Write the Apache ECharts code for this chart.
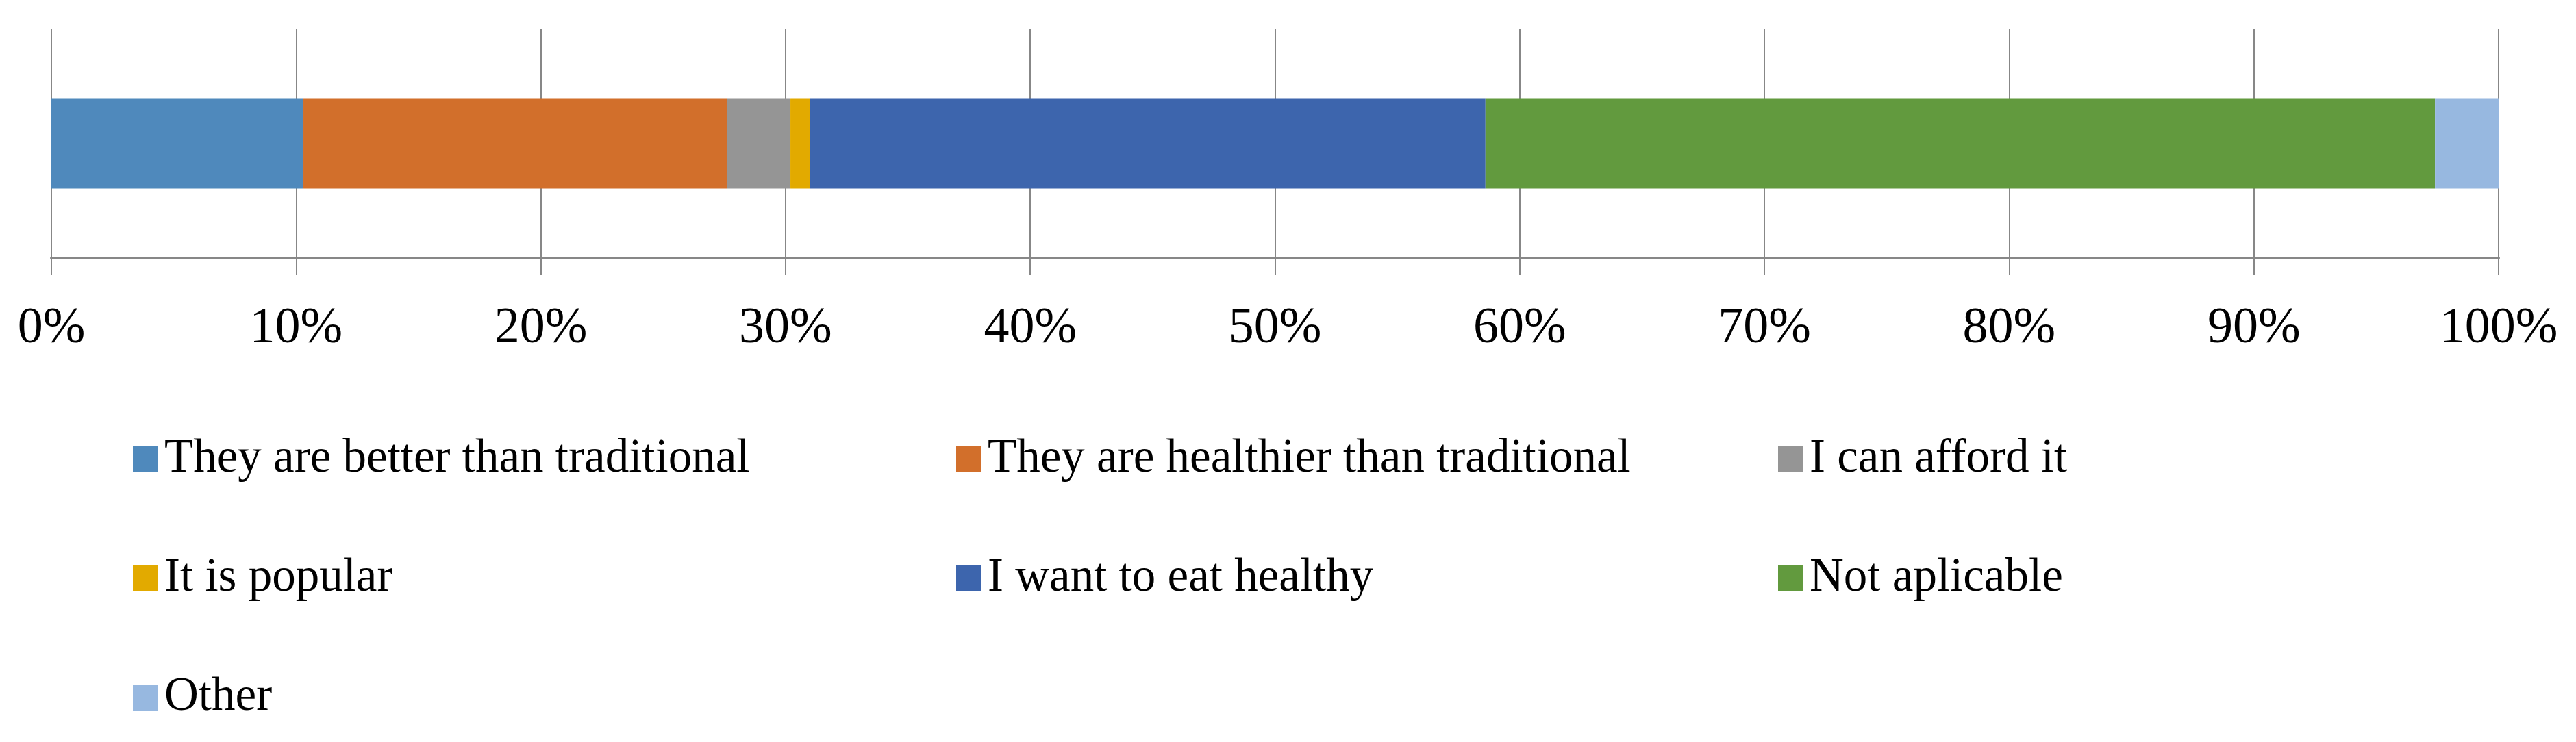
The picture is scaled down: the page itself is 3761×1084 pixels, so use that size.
<!DOCTYPE html>
<html>
<head>
<meta charset="utf-8">
<script src="https://cdn.jsdelivr.net/npm/echarts@6/dist/echarts.min.js"></script>
<style>
html,body{margin:0;padding:0;background:#fff;}
#chart{width:3761px;height:1084px;}
</style>
</head>
<body>
<div id="chart"></div>
<script>
const categories = ['Reason'];
const seriesNames = [
  'They are better than traditional',
  'They are healthier than traditional',
  'I can afford it',
  'It is popular',
  'I want to eat healthy',
  'Not aplicable',
  'Other'
];
const seriesValues = [10.3, 17.3, 2.6, 0.8, 27.6, 38.8, 2.6];
const seriesColors = ['#4F89BC', '#D26F2B', '#959595', '#E2AA00', '#3D65AD', '#629A3E', '#97B8E0'];
const tickValues = [0, 10, 20, 30, 40, 50, 60, 70, 80, 90, 100];

const FONT = '"Liberation Serif", "Times New Roman", serif';

const series = seriesNames.map((name, i) => ({
  name: name,
  type: 'bar',
  stack: 'total',
  barWidth: 132,
  itemStyle: { color: seriesColors[i] },
  data: [seriesValues[i]],
  animation: false
}));

function legendCol(left, names) {
  return {
    orient: 'vertical',
    left: left,
    top: 631,
    icon: 'rect',
    itemWidth: 36,
    itemHeight: 38,
    itemGap: 104,
    selectedMode: false,
    data: names,
    textStyle: {
      fontFamily: FONT,
      fontSize: 69,
      lineHeight: 70,
      color: '#000',
      padding: [0, 0, 0, 5]
    }
  };
}

const chart = echarts.init(document.getElementById('chart'), null, { renderer: 'canvas' });
chart.setOption({
  backgroundColor: '#ffffff',
  animation: false,
  grid: { left: 75, right: 113, top: 42, bottom: 1084 - 377, containLabel: false },
  xAxis: {
    type: 'value',
    min: tickValues[0],
    max: tickValues[tickValues.length - 1],
    interval: 10,
    axisLine: { show: true, onZero: false, lineStyle: { color: '#878787', width: 4 } },
    axisTick: { show: true, length: 25, lineStyle: { color: '#878787', width: 2 } },
    splitLine: { show: true, lineStyle: { color: '#878787', width: 2 } },
    axisLabel: {
      formatter: '{value}%',
      fontFamily: FONT,
      fontSize: 74,
      color: '#000',
      margin: 67
    }
  },
  yAxis: {
    type: 'category',
    data: categories,
    axisLine: { show: false },
    axisTick: { show: false },
    axisLabel: { show: false },
    splitLine: { show: false }
  },
  legend: [
    legendCol(189, [seriesNames[0], seriesNames[3], seriesNames[6]]),
    legendCol(1391, [seriesNames[1], seriesNames[4]]),
    legendCol(2591, [seriesNames[2], seriesNames[5]])
  ],
  series: series
});
</script>
</body>
</html>
